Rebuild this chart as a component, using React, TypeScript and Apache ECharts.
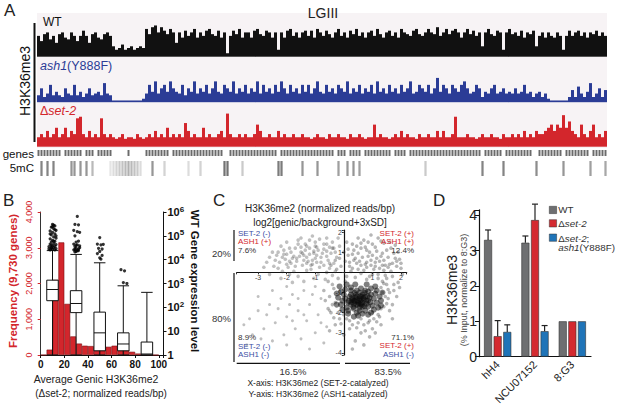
import React, { useEffect, useRef } from "react";
import * as echarts from "echarts";

const FONT = 'Arial, "Liberation Sans", Helvetica, sans-serif';

// ---------- Panel A: LGIII H3K36me3 tracks (relative signal heights) ----------
const wtTrack = [
  6, 4.5, 6.5, 7, 5, 6, 4, 6.5, 7, 5.5,
  5, 7, 6, 4.5, 6, 7.5, 6, 4, 6.5, 7,
  5.5, 5, 6.5, 7, 6, 3, 2, 2.5, 3.5, 2,
  2.5, 3, 2, 2.5, 3, 2.5, 8, 6.5, 8.5, 9,
  7, 8.5, 7.5, 6.5, 8, 7, 4, 7, 5.5, 7.5,
  6, 7, 8, 5.5, 7, 6, 7.5, 8, 6.5, 6,
  7.5, 5.5, 7, 1, 6, 7.5, 6.5, 8, 5.5, 7,
  7, 5.5, 7.5, 8, 6.5, 6, 7.5, 7, 5.5, 7,
  2, 7, 5.5, 7.5, 8, 6, 7, 5.5, 7, 7.5,
  6, 7.5, 5.5, 8, 7, 6, 7.5, 6.5, 5.5, 7,
  8, 6, 7, 5.5, 7.5, 6.5, 8, 6, 7, 5.5,
  7, 7.5, 6, 8, 6.5, 5.5, 7, 7.5, 6, 7,
  5.5, 8, 7, 6.5, 6, 7.5, 8, 6.5, 6, 7,
  8, 7, 6.5, 8.5, 6, 7, 8, 6.5, 7.5, 8,
  7, 5.5, 7, 8, 6.5, 7.5, 6, 7, 3, 7,
  8, 6.5, 6, 7.5, 7, 2, 7, 8, 6.5, 7,
  6, 7.5, 5.5, 7, 6.5, 7.5, 3, 6, 7, 5.5,
  7, 6, 5.5, 7, 6, 2, 6, 7.5, 6, 7,
  7.5, 6, 7, 5.5, 7, 6.5, 7.5, 6, 7, 6,
];
const ash1Track = [
  2, 4, 1.5, 2.5, 5, 2, 3, 2, 1.5, 4,
  2.5, 2, 5, 2, 3, 1.5, 2.5, 4, 2, 2.5,
  3, 2, 5.5, 2.5, 2, 0.5, 0.5, 0.5, 0.5, 0.5,
  0.5, 0.5, 0.5, 0.5, 0.5, 1, 2.5, 5, 3, 6,
  2.5, 4, 5, 3, 6, 4, 3, 2.5, 5, 2,
  4, 3, 6, 2.5, 4, 3, 5, 2.5, 4, 6,
  3, 2.5, 5, 4, 3, 6, 2.5, 4, 3, 5,
  2.5, 4, 3, 6, 2.5, 5, 3, 4, 2.5, 5,
  3, 6, 4, 2.5, 5, 3, 4, 2.5, 5, 3,
  5, 2.5, 4, 6, 3, 2.5, 5, 3, 4, 2.5,
  5, 4, 3, 6, 2.5, 4, 3, 5, 2.5, 4,
  3, 5, 2.5, 6, 3, 4, 2.5, 5, 3, 4,
  2.5, 5, 3, 4, 6, 2.5, 3, 5, 4, 3,
  5, 2.5, 4, 7, 3, 5, 4, 2.5, 5, 4,
  3, 5, 6, 4, 2.5, 3, 5, 4, 1.5, 3,
  2.5, 4, 5, 2.5, 3, 4, 2.5, 3, 2.5, 4,
  2.5, 3, 5, 2.5, 3, 1.5, 2.5, 3, 1.5, 2.5,
  1, 0.5, 0.5, 0.5, 0.5, 0.5, 0.5, 1.5, 3.5, 1.5,
  4.5, 2.5, 1.5, 3, 5.5, 1.5, 2.5, 4, 1.5, 3.5,
];
const set2Track = [
  3, 4, 3, 5, 3, 4, 6, 3, 4, 6,
  3, 5, 4, 9, 9.5, 4, 3, 5, 3, 4,
  3, 9, 4, 3, 4, 3, 2.5, 3, 4, 2.5,
  3, 3, 2.5, 4, 3, 2.5, 3, 4, 3, 5,
  3, 4, 3, 6, 3, 4, 3, 4, 3, 7.5,
  5, 3, 4, 3, 3, 6, 3, 4, 3, 3,
  4, 5, 3, 10.5, 4, 3, 3, 4, 3, 4,
  3, 3, 4, 7, 5, 3, 3, 4, 3, 3,
  5, 3, 4, 3, 3, 4, 3, 3, 4, 3,
  3, 2.5, 3, 4, 3, 3, 2.5, 4, 3, 3,
  4, 3, 3, 2.5, 4, 3, 3, 4, 3, 2.5,
  3, 3, 7, 3, 4, 3, 3, 2.5, 3, 4,
  3, 5, 3, 4, 3, 3, 2.5, 4, 3, 3,
  4, 3, 3, 5, 3, 5, 3, 3, 4, 9.5,
  3, 3, 3, 4, 3, 3, 2.5, 3, 4, 3,
  3, 4, 3, 3, 2.5, 4, 3, 3, 4, 3,
  4, 3, 5, 3, 4, 3, 5, 4, 4, 5,
  6, 7, 5, 7, 6, 10, 6, 8, 5, 4,
  3, 7, 4, 3, 5, 7, 3, 4, 3, 5,
];
const geneGaps = [8, 15, 19, 25, 26, 27, 28, 29, 31, 32, 33, 34, 35, 44, 62, 63, 80, 99, 103, 108, 118, 123, 148, 155, 165, 166, 175, 184];
const mC5Marks = [
  [1, 0.7], [3, 0.7], [5, 0.7], [11, 0.6], [12, 0.6], [14, 0.6], [16, 0.6], [18, 0.4],
  [24, 0.15], [25, 0.2], [26, 0.25], [27, 0.3], [28, 0.35], [29, 0.4], [30, 0.45], [31, 0.4], [32, 0.35], [33, 0.3], [34, 0.2],
  [38, 0.6], [42, 0.25], [50, 0.2], [54, 0.25], [62, 0.8], [63, 0.8], [68, 0.3], [80, 0.75], [81, 0.75],
  [88, 0.6], [93, 0.6], [100, 0.55], [103, 0.6], [105, 0.6], [107, 0.55], [129, 0.3],
  [148, 0.7], [155, 0.7], [166, 0.65], [175, 0.6], [184, 0.55], [189, 0.5],
];

// ---------- Panel B ----------
const histBins = ["0-5", "5-10", "10-15", "15-20", "20-25", "25-30", "30-35", "35-40", "40-45", "45-50",
  "50-55", "55-60", "60-65", "65-70", "70-75", "75-80", "80-85", "85-90", "90-95", "95-100"];
const histCounts = [0, 150, 2100, 3150, 1430, 520, 320, 260, 250, 240, 270, 230, 260, 190, 150, 90, 40, 20, 10, 0];
const boxCategories = ["0-20", "20-40", "40-60", "60-80", "80-100"];
const boxStats = [
  [1, 190, 560, 1380, 24000],
  [1, 60, 145, 500, 16600],
  [1, 1.5, 8.5, 63, 7400],
  [1, 1.5, 2.9, 8.5, 800],
  [1, 1, 1.1, 3.5, 425],
];
const boxOutliers = [
  [8, 26000], [10, 27000], [12, 26000], [9, 30000], [11, 32000], [13, 29000], [7, 35000], [10, 38000], [12, 36000],
  [8, 45000], [11, 47000], [13, 43000], [9, 55000], [12, 58000], [10, 65000], [8, 75000], [13, 80000], [11, 90000],
  [9, 110000], [12, 120000], [10, 140000], [8, 160000], [13, 170000], [11, 200000], [9, 230000], [12, 260000], [10, 300000],
  [7, 28000], [9, 40000], [11, 60000], [13, 100000], [8, 120000], [12, 180000], [10, 240000], [11, 280000], [9, 33000],
  [31, 650000], [29, 300000], [32, 290000], [28, 170000], [31, 150000], [33, 140000], [29, 100000], [32, 60000],
  [30, 55000], [28, 45000], [31, 42000], [33, 38000], [29, 35000], [30, 30000], [32, 28000], [28, 26000], [31, 24000],
  [30, 22000], [29, 27000], [33, 32000], [30, 40000], [32, 24000], [29, 21000],
  [50, 85000], [48, 45000], [51, 42000], [53, 44000], [49, 30000], [52, 28000], [50, 22000], [48, 18000], [52, 15000],
  [50, 12000], [51, 10500],
  [68, 3800], [71, 3400], [70, 1100], [73, 1000],
];

// ---------- Panel C ----------
const scatterCore = [
  [0.55, -1.3], [0.35, -1.4], [0.75, -1.2], [0.45, -1.6], [0.65, -1.5], [0.25, -1.1], [0.85, -1.4], [0.55, -1.0], [0.15, -1.5], [0.95, -1.1],
  [0.45, -1.2], [0.65, -1.7], [0.35, -1.8], [0.75, -0.9], [0.05, -1.3], [1.05, -1.3], [0.55, -1.9], [0.25, -1.6], [0.85, -1.7], [0.45, -0.9],
  [0.7, -1.35], [0.4, -1.25], [0.6, -1.55], [0.3, -1.35], [0.8, -1.55], [0.5, -1.45], [0.9, -1.25], [0.2, -1.2], [0.65, -1.1], [0.35, -1.55],
  [-0.05, -1.4], [1.15, -1.5], [0.1, -1.75], [1.0, -1.65], [0.25, -0.9], [0.85, -0.95], [0.55, -1.75], [0.0, -1.1], [1.1, -1.05], [0.45, -2.0],
  [0.75, -1.9], [0.15, -1.9], [-0.1, -1.6], [1.25, -1.2], [0.6, -0.8], [0.25, -0.75], [0.95, -0.8], [-0.1, -0.95], [1.2, -1.75], [0.5, -2.15],
  [0.37, -1.02], [0.73, -1.02], [0.17, -1.42], [0.93, -1.48], [0.57, -1.18], [0.33, -1.72], [0.83, -1.18], [0.47, -1.38], [0.63, -1.62], [0.27, -1.48],
  [0.05, -0.85], [1.05, -1.85], [-0.2, -1.25], [1.3, -1.4], [0.65, -2.05], [-0.05, -1.85], [1.15, -0.9], [0.35, -2.2], [0.85, -2.1], [-0.25, -1.05],
  [0.42, -1.12], [0.68, -1.28], [0.52, -1.52], [0.38, -1.42], [0.78, -1.42], [0.58, -1.38], [0.48, -1.62], [0.62, -1.22], [0.28, -1.28], [0.72, -1.68],
  [0.1, -0.6], [0.4, -0.6], [0.8, -0.6], [1.1, -0.7], [-0.15, -0.7], [1.35, -1.0], [1.3, -1.65], [0.15, -2.05], [0.95, -2.0], [-0.25, -1.6],
];
const scatterHalo = [
  [1.2, -0.3], [1.5, -0.6], [1.7, -0.2], [1.4, 0.1], [1.9, -0.5], [1.1, 0.3], [0.8, 0.5], [1.6, 0.4], [1.3, 0.8], [0.9, 1.0],
  [0.4, 0.7], [0.6, 1.2], [1.0, 1.4], [1.5, 1.1], [1.8, 0.7], [2.0, 0.2], [1.75, -0.9], [1.55, -1.3], [1.4, -1.7], [1.2, -2.1],
  [0.9, -2.4], [0.5, -2.5], [0.1, -2.3], [-0.2, -2.0], [-0.4, -1.6], [-0.5, -1.2], [-0.4, -0.6], [-0.2, -0.3], [0.1, -0.2], [0.3, 0.2],
  [0.7, 0.1], [1.0, -0.1], [0.2, 0.5], [-0.1, 0.3], [-0.3, 0.6], [0.0, 1.0], [0.3, 1.4], [0.7, 1.6], [1.2, 1.7], [1.6, 1.5],
  [1.9, 1.0], [2.05, -0.1], [1.85, -1.2], [1.6, -1.9], [1.0, -2.8], [0.6, -3.0], [0.2, -2.8], [-0.3, -2.6], [0.4, -3.4], [0.9, -3.2],
  [1.3, -2.6], [1.7, -1.6], [1.45, -0.15], [1.25, 0.55], [0.85, 0.8], [0.5, 0.95], [0.15, 0.85], [-0.15, 0.7], [-0.45, 0.35], [-0.6, 0.0],
  [1.05, 0.15], [0.6, 0.35], [0.95, 0.6], [1.35, 0.35], [1.65, 0.05], [1.85, 0.3], [1.55, 0.75], [1.15, 1.05], [0.75, 1.25], [0.35, 1.1],
  [0.05, 0.55], [-0.25, 0.15], [0.45, 0.45], [0.8, -0.35], [1.35, -0.45], [1.6, -1.0], [1.35, -1.0], [1.5, -1.55], [1.05, -2.3], [0.7, -2.6],
  [0.3, -2.6], [-0.1, -2.55], [-0.35, -2.25], [-0.55, -1.8], [-0.65, -1.4], [-0.7, -0.9], [-0.55, -0.45], [1.95, -0.75], [1.8, 1.35], [1.4, 1.45],
  [0.5, 1.7], [0.1, 1.5], [-0.4, 1.2], [0.95, 1.85], [1.7, -2.3], [1.1, -3.0], [0.0, -3.1], [-0.5, -2.9], [0.7, -3.6], [0.3, -3.8],
  [0.2, 0.3], [0.5, 0.15], [0.8, 0.25], [1.1, 0.5], [1.4, 0.6], [1.7, 0.45], [0.35, 0.6], [0.65, 0.75], [0.95, 0.35], [1.25, 0.2],
  [1.55, 0.25], [1.85, 0.55], [0.15, 1.15], [0.45, 1.3], [0.8, 1.1], [1.1, 1.25], [1.35, 0.95], [1.65, 1.2], [1.95, 0.65], [0.55, 0.55],
  [0.25, 0.05], [0.6, -0.05], [0.9, -0.2], [1.2, -0.1], [1.5, -0.3], [1.75, -0.6], [0.4, -0.25], [0.05, -0.45], [1.3, -0.75], [1.55, -0.85],
  [0.85, 1.5], [1.3, 1.55], [0.6, 1.45], [1.75, 0.95], [2.0, 0.45], [0.3, 0.9], [1.0, 0.85], [1.45, 0.35], [0.75, 0.4], [1.15, 0.7],
  [0.2, -2.4], [0.6, -2.3], [1.0, -2.0], [1.3, -1.8], [-0.3, -1.5], [-0.35, -0.8], [1.45, -1.2], [1.4, -0.55], [0.0, -2.1], [0.85, -2.5],
  [-0.15, -2.3], [1.15, -2.45], [0.45, -2.75], [0.75, -2.9], [1.25, -2.2], [-0.45, -2.0],
];
const scatterArm = [
  [-0.3, 1.0], [-0.6, 0.8], [-0.9, 1.1], [-1.2, 0.9], [-1.5, 1.0], [-1.8, 0.7], [-2.1, 0.9], [-2.4, 0.6], [-0.8, 0.5], [-1.1, 0.4],
  [-1.4, 0.6], [-1.7, 0.3], [-2.0, 0.4], [-2.3, 0.2], [-0.5, 0.2], [-0.9, -0.1], [-1.3, 0.1], [-1.6, -0.2], [-1.9, -0.1], [-2.2, -0.3],
  [-0.7, 1.4], [-1.0, 1.5], [-1.3, 1.3], [-1.6, 1.4], [-1.9, 1.2], [-2.2, 1.3], [-0.4, 1.5], [-1.1, 1.8], [-1.5, 1.7], [-0.6, 1.7],
  [-2.5, 1.0], [-2.7, 0.5], [-2.6, -0.1], [-1.0, 0.7], [-1.25, 0.55], [-0.75, 0.95], [-1.55, 0.8], [-1.85, 1.0], [-2.05, 0.65], [-0.55, 0.6],
  [-0.85, 0.25], [-1.15, 0.15], [-1.45, 0.35], [-1.75, 0.05], [-2.15, 0.05], [-0.35, 0.45], [-0.65, -0.35], [-1.05, -0.3], [-1.4, -0.45], [-1.8, -0.5],
  [-0.95, 1.25], [-1.35, 1.1], [-1.7, 1.2], [-2.0, 1.5], [-0.5, 1.25], [-0.25, 0.75], [-1.2, 1.6], [-0.85, 1.65], [-2.35, 0.85], [-2.45, 0.3],
  [-0.15, 1.3], [-0.45, 0.95], [-0.95, 0.85], [-1.05, 1.05], [-1.65, 0.55], [-1.95, 0.25], [-2.25, 0.5], [-1.3, 0.75], [-0.7, 0.35], [-0.3, 0.05],
  [-1.6, 1.6], [-2.6, 0.75], [-2.8, 0.25], [-0.2, 1.7], [-1.15, 0.35], [-0.6, 1.05], [-1.45, 0.95], [-1.85, 0.45], [-2.1, 1.1], [-0.4, -0.15],
  [-1.05, 0.95], [-1.4, 0.85], [-1.75, 0.8], [-2.0, 0.9], [-0.8, 0.75], [-1.2, 1.2], [-1.5, 1.25], [-0.7, 1.15], [-1.9, 0.55], [-2.3, 1.0],
  [-0.95, 0.5], [-1.3, 0.45], [-1.65, 0.7], [-0.5, 0.45], [-0.6, 1.4], [-1.1, 0.6], [-1.35, 1.4], [-2.15, 0.75], [-1.0, 1.3], [-0.35, 1.2],
];
const scatterSparse = [
  [-1.0, -0.7], [-1.4, -0.9], [-1.8, -1.1], [-2.2, -1.3], [-2.6, -1.6], [-3.0, -1.9], [-3.3, -2.3], [-0.8, -1.3], [-1.2, -1.6], [-1.6, -1.9],
  [-2.0, -2.2], [-2.4, -2.5], [-2.8, -2.8], [-3.2, -3.1], [-0.9, -2.1], [-1.3, -2.4], [-1.7, -2.8], [-2.1, -3.1], [-2.5, -3.4], [-0.6, -2.7],
  [-1.0, -3.0], [-1.5, -3.3], [-2.0, -3.6], [-0.7, -3.5], [-1.2, -3.8], [-3.5, -2.6], [-3.0, -1.2], [-2.5, -0.9], [-2.0, -0.7], [-1.6, -1.3],
  [-2.3, -1.8], [-2.7, -2.1], [-1.1, -1.1], [-1.9, -1.6], [-1.4, -2.1], [-0.5, -1.9], [-0.8, -2.5], [-1.8, -2.4], [-2.9, -3.3], [-3.4, -3.6],
];

// ---------- Panel D ----------
const dCategories = ["hH4", "NCU07152", "8:G3"];
const dWT = [3.3, 3.22, 1];
const dWTErr = [3.58, 3.41, 0];
const dSet2 = [0.58, 3.86, 1];
const dSet2Err = [1.02, 4.31, 0];
const dDouble = [0.7, 0.72, 1];
const dDoubleErr = [0.9, 0.88, 0];

const RED = "#d3262c";
const BLUE_A = "#2b3c96";
const BLUE_C = "#3d4ea3";

function txt(x: number, y: number, text: string, o: any = {}) {
  return {
    type: "text",
    x,
    y,
    rotation: o.rot || 0,
    silent: true,
    z: 10,
    style: {
      text,
      fontFamily: FONT,
      fontSize: o.size || 11,
      fill: o.color || "#222",
      fontWeight: o.weight || "normal",
      fontStyle: o.fstyle || "normal",
      textAlign: o.align || "left",
      verticalAlign: o.v || "middle",
      rich: o.rich,
    },
  };
}
function ln(x1: number, y1: number, x2: number, y2: number, w = 1.2, c = "#111") {
  return { type: "line", silent: true, z: 10, shape: { x1, y1, x2, y2 }, style: { stroke: c, lineWidth: w } };
}
function richParts(size: number, color: string) {
  return {
    i: { fontFamily: FONT, fontSize: size, fontStyle: "italic", fontWeight: "normal", fill: color },
    n: { fontFamily: FONT, fontSize: size, fontStyle: "normal", fontWeight: "normal", fill: color },
  };
}

// C plot geometry (pixels) used to place its crossing axes on the zero lines
const C_LEFT = 236.7, C_TOP = 230, C_W = 170, C_H = 125;
const C_XMIN = -3.75, C_XMAX = 2.2, C_YMIN = -4.1, C_YMAX = 2.1;

function buildOption() {
  const trackIdx = wtTrack.map((_, i) => String(i));
  const genesData = trackIdx.map((_, i) => (geneGaps.includes(i) ? 0 : 1));
  const mC5Data: any[] = trackIdx.map(() => 0);
  mC5Marks.forEach(([i, a]) => {
    mC5Data[i] = { value: 1, itemStyle: { color: `rgba(80,80,80,${a})` } };
  });

  const hiddenCat = (g: number, data: string[]) => ({ type: "category", gridIndex: g, data, show: false, boundaryGap: true });
  const hiddenVal = (g: number, max: number) => ({ type: "value", gridIndex: g, min: 0, max, show: false, splitLine: { show: false } });

  const supRich = {
    b: { fontFamily: FONT, fontWeight: "bold", fontSize: 11, color: "#111", lineHeight: 14 },
    s: { fontFamily: FONT, fontWeight: "bold", fontSize: 8, color: "#111", verticalAlign: "top", lineHeight: 8 },
  };

  const errSeries = (vals: number[], errs: number[], offset: number) => ({
    type: "custom",
    xAxisIndex: 9,
    yAxisIndex: 10,
    z: 5,
    clip: false,
    silent: true,
    data: dCategories.map((_, i) => [i, vals[i], errs[i]]),
    renderItem: (params: any, api: any) => {
      const ci = api.value(0);
      const v = api.value(1);
      const e = api.value(2);
      if (!e || e <= v) return null;
      const p0 = api.coord([ci, v]);
      const p1 = api.coord([ci, e]);
      const x = p0[0] + offset;
      return {
        type: "group",
        children: [
          { type: "line", shape: { x1: x, y1: p0[1], x2: x, y2: p1[1] }, style: { stroke: "#222", lineWidth: 1.2 } },
          { type: "line", shape: { x1: x - 3, y1: p1[1], x2: x + 3, y2: p1[1] }, style: { stroke: "#222", lineWidth: 1.2 } },
        ],
      };
    },
  });

  const cFmt = (v: number) => (Number.isInteger(v) && v !== 0 ? String(v) : "");
  const xZeroOffset = -((0 - C_YMIN) / (C_YMAX - C_YMIN)) * C_H;
  const yZeroOffset = -((0 - C_XMIN) / (C_XMAX - C_XMIN)) * C_W;

  return {
    animation: false,
    textStyle: { fontFamily: FONT },
    grid: [
      { left: 37, top: 22, width: 570, height: 34.7 },
      { left: 37, top: 67.5, width: 570, height: 34.7 },
      { left: 37, top: 112, width: 570, height: 34.7 },
      { left: 37, top: 150, width: 570, height: 6 },
      { left: 37, top: 161, width: 570, height: 15 },
      { left: 40.7, top: 212, width: 122.8, height: 143 },
      { left: 40.7, top: 212, width: 118, height: 143 },
      { left: C_LEFT, top: C_TOP, width: C_W, height: C_H },
      { left: 479, top: 209.8, width: 112, height: 146.9 },
    ],
    xAxis: [
      hiddenCat(0, trackIdx),
      hiddenCat(1, trackIdx),
      hiddenCat(2, trackIdx),
      hiddenCat(3, trackIdx),
      hiddenCat(4, trackIdx),
      {
        type: "value", gridIndex: 5, min: 0, max: 104, interval: 20,
        axisLine: { onZero: false, lineStyle: { color: "#111", width: 1 } },
        axisTick: { length: 3, lineStyle: { color: "#111" } },
        axisLabel: { fontSize: 10, fontWeight: "bold", color: "#111", margin: 4, formatter: (v: number) => (v % 20 === 0 ? String(v) : "") },
        splitLine: { show: false },
      },
      hiddenCat(6, histBins),
      hiddenCat(6, boxCategories),
      {
        type: "value", gridIndex: 7, min: C_XMIN, max: C_XMAX, position: "bottom", offset: xZeroOffset,
        axisLine: { onZero: false, lineStyle: { color: "#111", width: 1.2 } },
        axisTick: { length: 2, lineStyle: { color: "#333" } },
        axisLabel: { fontSize: 7, color: "#444", margin: 2, formatter: cFmt },
        splitLine: { show: false },
      },
      {
        type: "category", gridIndex: 8, data: dCategories,
        axisLine: { lineStyle: { color: "#111", width: 1.2 } },
        axisTick: { length: 4, lineStyle: { color: "#111" } },
        axisLabel: { rotate: 45, fontSize: 11, color: "#222", margin: 6 },
      },
    ],
    yAxis: [
      hiddenVal(0, 10),
      hiddenVal(1, 10),
      hiddenVal(2, 11),
      hiddenVal(3, 1),
      hiddenVal(4, 1),
      {
        type: "value", gridIndex: 5, position: "left", min: 0, max: 4000, interval: 1000, offset: 4,
        axisLine: { show: true, lineStyle: { color: "#333" } },
        axisTick: { show: true, length: 3, lineStyle: { color: RED } },
        axisLabel: { rotate: 90, fontSize: 9, color: RED, margin: 3 },
        splitLine: { show: false },
      },
      {
        type: "log", gridIndex: 5, position: "right", min: 1, max: 1000000, logBase: 10,
        axisLine: { show: true, lineStyle: { color: "#111" } },
        axisTick: { show: true, length: 3, lineStyle: { color: "#111" } },
        axisLabel: {
          margin: 4,
          formatter: (v: number) => {
            const e = Math.round(Math.log10(v));
            if (e === 0) return "{b|1}";
            if (e === 1) return "{b|10}";
            return "{b|10}{s|" + e + "}";
          },
          rich: supRich,
        },
        minorTick: { show: false },
        splitLine: { show: false },
      },
      hiddenVal(6, 4000),
      { type: "log", gridIndex: 6, min: 1, max: 1000000, logBase: 10, show: false, splitLine: { show: false } },
      {
        type: "value", gridIndex: 7, min: C_YMIN, max: C_YMAX, position: "left", offset: yZeroOffset,
        axisLine: { show: true, onZero: false, lineStyle: { color: "#111", width: 1.2 } },
        axisTick: { show: true, length: 2, lineStyle: { color: "#333" } },
        axisLabel: { fontSize: 7, color: "#444", margin: 2, formatter: cFmt },
        splitLine: { show: false },
      },
      {
        type: "value", gridIndex: 8, min: 0, max: 4.15, interval: 1,
        axisLine: { show: true, lineStyle: { color: "#111", width: 1.2 } },
        axisTick: { show: true, length: 4, lineStyle: { color: "#111" } },
        axisLabel: { fontSize: 14, color: "#222", margin: 2, formatter: (v: number) => (Number.isInteger(v) ? String(v) : "") },
        splitLine: { show: false },
      },
    ],
    series: [
      // Panel A
      { type: "bar", name: "WT", xAxisIndex: 0, yAxisIndex: 0, data: wtTrack, barCategoryGap: "0%", silent: true, itemStyle: { color: "#111" } },
      { type: "bar", name: "ash1", xAxisIndex: 1, yAxisIndex: 1, data: ash1Track, barCategoryGap: "0%", silent: true, itemStyle: { color: BLUE_A } },
      { type: "bar", name: "set2", xAxisIndex: 2, yAxisIndex: 2, data: set2Track, barCategoryGap: "0%", silent: true, itemStyle: { color: RED } },
      { type: "bar", name: "genes", xAxisIndex: 3, yAxisIndex: 3, data: genesData, barCategoryGap: "35%", silent: true, itemStyle: { color: "#6b6b6b" } },
      { type: "bar", name: "5mC", xAxisIndex: 4, yAxisIndex: 4, data: mC5Data, barCategoryGap: "25%", silent: true, itemStyle: { color: "#777" } },
      // Panel B
      {
        type: "bar", name: "hist", xAxisIndex: 6, yAxisIndex: 7, data: histCounts, barCategoryGap: "0%", silent: true,
        itemStyle: { color: RED, borderColor: "#7a0f12", borderWidth: 0.6 },
      },
      {
        type: "boxplot", name: "box", xAxisIndex: 7, yAxisIndex: 8, data: boxStats, boxWidth: [11.5, 11.5], silent: true, z: 3,
        itemStyle: { color: "#fff", borderColor: "#111", borderWidth: 1 },
      },
      {
        type: "scatter", name: "outliers", xAxisIndex: 5, yAxisIndex: 6, data: boxOutliers, symbolSize: 3.2, silent: true, z: 4,
        itemStyle: { color: "#000" },
      },
      // Panel C
      { type: "scatter", xAxisIndex: 8, yAxisIndex: 9, data: scatterSparse, symbolSize: 3, silent: true, itemStyle: { color: "rgba(60,60,60,0.4)" } },
      { type: "scatter", xAxisIndex: 8, yAxisIndex: 9, data: scatterArm, symbolSize: 3.6, silent: true, itemStyle: { color: "rgba(50,50,50,0.38)" } },
      { type: "scatter", xAxisIndex: 8, yAxisIndex: 9, data: scatterHalo, symbolSize: 3.6, silent: true, itemStyle: { color: "rgba(40,40,40,0.42)" } },
      { type: "scatter", xAxisIndex: 8, yAxisIndex: 9, data: scatterCore, symbolSize: 6, silent: true, itemStyle: { color: "rgba(10,10,10,0.65)" } },
      // Panel D
      { type: "bar", name: "WT", xAxisIndex: 9, yAxisIndex: 10, data: dWT, barWidth: 8, barGap: "20%", silent: true, itemStyle: { color: "#6e6f71", borderColor: "#333", borderWidth: 0.6 } },
      { type: "bar", name: "Δset-2", xAxisIndex: 9, yAxisIndex: 10, data: dSet2, barWidth: 8, barGap: "20%", silent: true, itemStyle: { color: "#d42a30", borderColor: "#333", borderWidth: 0.6 } },
      { type: "bar", name: "Δset-2; ash1(Y888F)", xAxisIndex: 9, yAxisIndex: 10, data: dDouble, barWidth: 8, barGap: "20%", silent: true, itemStyle: { color: "#1f74b8", borderColor: "#333", borderWidth: 0.6 } },
      errSeries(dWT, dWTErr, -9.6),
      errSeries(dSet2, dSet2Err, 0),
      errSeries(dDouble, dDoubleErr, 9.6),
    ],
    graphic: [
      { type: "rect", silent: true, z: -10, shape: { x: 37, y: 13, width: 570, height: 135 }, style: { fill: "#f7f3f5" } },
      // Panel A texts
      txt(4, 10, "A", { size: 17 }),
      txt(323, 13, "LGIII", { size: 14, align: "center" }),
      txt(43, 22, "WT", { size: 12, color: "#111" }),
      txt(40, 66, "{i|ash1}{n|(Y888F)}", { size: 12.5, color: BLUE_A, rich: richParts(12.5, BLUE_A) }),
      txt(40, 111, "{n|Δ}{i|set-2}", { size: 12.5, color: RED, rich: richParts(12.5, RED) }),
      txt(25, 81, "H3K36me3", { size: 14, align: "center", rot: Math.PI / 2, color: "#111" }),
      ln(34.5, 23, 34.5, 142, 2),
      txt(34, 153.5, "genes", { size: 11.5, align: "right", color: "#111" }),
      txt(34, 168, "5mC", { size: 11.5, align: "right", color: "#111" }),
      // Panel B texts
      txt(3, 200, "B", { size: 17 }),
      txt(13, 281, "Frequency (9,730 genes)", { size: 11.5, weight: "bold", color: RED, align: "center", rot: Math.PI / 2 }),
      txt(195, 281, "WT Gene expression level", { size: 11.5, weight: "bold", color: "#111", align: "center", rot: -Math.PI / 2 }),
      txt(96, 379, "Average Genic H3K36me2", { size: 10.5, align: "center", color: "#222" }),
      txt(101, 393, "(Δset-2; normalized reads/bp)", { size: 10, align: "center", color: "#222" }),
      // Panel C texts
      txt(213, 200, "C", { size: 17 }),
      txt(320, 208, "H3K36me2 (normalized reads/bp)", { size: 10, align: "center", color: "#222" }),
      txt(320, 222, "log2[genic/background+3xSD]", { size: 10, align: "center", color: "#222" }),
      txt(238, 233, "SET-2 (-)", { size: 8, color: BLUE_C }),
      txt(238, 241.5, "ASH1 (+)", { size: 8, color: RED }),
      txt(238, 250, "7.6%", { size: 8, color: "#333" }),
      txt(414, 233, "SET-2 (+)", { size: 8, color: RED, align: "right" }),
      txt(414, 241.5, "ASH1 (+)", { size: 8, color: RED, align: "right" }),
      txt(414, 250.5, "12.4%", { size: 8, color: "#333", align: "right" }),
      txt(238, 337.5, "8.9%", { size: 8, color: "#333" }),
      txt(238, 346, "SET-2 (-)", { size: 8, color: BLUE_C }),
      txt(238, 354.5, "ASH1 (-)", { size: 8, color: BLUE_C }),
      txt(414, 337, "71.1%", { size: 8, color: "#333", align: "right" }),
      txt(414, 345.7, "SET-2 (+)", { size: 8, color: RED, align: "right" }),
      txt(414, 354.3, "ASH1 (-)", { size: 8, color: BLUE_C, align: "right" }),
      txt(231, 253, "20%", { size: 9.5, color: "#333", align: "right" }),
      txt(231, 318, "80%", { size: 9.5, color: "#333", align: "right" }),
      ln(234, 230, 234, 261),
      ln(234, 273, 234, 362),
      ln(236.7, 363.3, 340, 363.3),
      ln(345, 363.3, 410, 363.3),
      txt(293, 371.5, "16.5%", { size: 9.5, align: "center", color: "#333" }),
      txt(388, 371.5, "83.5%", { size: 9.5, align: "center", color: "#333" }),
      txt(318, 383, "X-axis: H3K36me2 (SET-2-catalyzed)", { size: 8.5, align: "center", color: "#222" }),
      txt(318, 394, "Y-axis: H3K36me2 (ASH1-catalyzed)", { size: 8.5, align: "center", color: "#222" }),
      // Panel D texts
      txt(433, 200, "D", { size: 17 }),
      txt(452, 290, "H3K36me3", { size: 14, align: "center", rot: Math.PI / 2, color: "#222" }),
      txt(464, 290, "(% Input, normalize to 8:G3)", { size: 9, align: "center", rot: Math.PI / 2, color: "#444" }),
      { type: "rect", silent: true, z: 10, shape: { x: 549.3, y: 206.3, width: 7.3, height: 7.3 }, style: { fill: "#6e6f71", stroke: "#333", lineWidth: 0.5 } },
      { type: "rect", silent: true, z: 10, shape: { x: 549.3, y: 219.7, width: 7.3, height: 7.3 }, style: { fill: "#d42a30", stroke: "#333", lineWidth: 0.5 } },
      { type: "rect", silent: true, z: 10, shape: { x: 549.3, y: 234, width: 7.3, height: 7.3 }, style: { fill: "#1f74b8", stroke: "#333", lineWidth: 0.5 } },
      txt(558.3, 209.8, "WT", { size: 9.8, color: "#333" }),
      txt(558.3, 223.4, "{n|Δ}{i|set-2}", { size: 9.8, rich: richParts(9.8, "#333") }),
      txt(558.3, 238, "{n|Δ}{i|set-2}{n|;}", { size: 9.8, rich: richParts(9.8, "#333") }),
      txt(558.3, 247.5, "{i|ash1}{n|(Y888F)}", { size: 9.8, rich: richParts(9.8, "#333") }),
    ],
  };
}

export default function App() {
  const ref = useRef<HTMLDivElement>(null);
  useEffect(() => {
    document.body.style.margin = "0";
    const chart = echarts.init(ref.current as HTMLDivElement, null, { renderer: "svg" });
    chart.setOption(buildOption() as any);
    return () => chart.dispose();
  }, []);
  return <div ref={ref} style={{ width: 617, height: 409 }} />;
}
